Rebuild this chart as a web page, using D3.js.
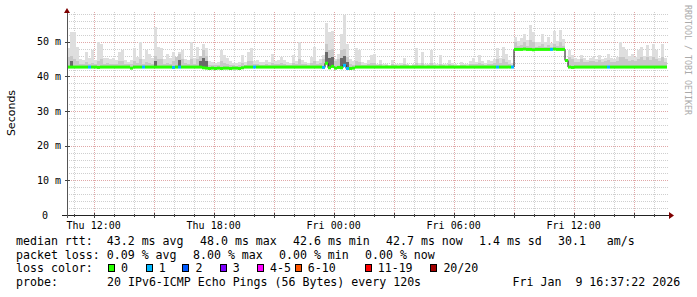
<!DOCTYPE html>
<html>
<head>
<meta charset="utf-8">
<script src="https://cdn.jsdelivr.net/npm/d3@7"></script>
<style>
  body { margin: 0; background: #fff; }
  svg text { font-family: "DejaVu Sans Mono", monospace; }
</style>
</head>
<body>
<svg id="chart" width="697" height="297"></svg>
<script>
// one column every 9 minutes, Thu 10:40 -> Fri 16:40
const startTime = new Date(2026, 0, 8, 10, 40);
const endTime = new Date(2026, 0, 9, 16, 40);
const stepMin = 9;

// median rtt per column (ms)
const medianRtt = [
  42.7,42.7,42.7,42.7,42.7,42.7,42.7,42.7,42.7,42.7, 42.6,42.7,42.7,42.7,42.7,42.7,42.7,42.7,42.7,42.7,
  42.7,42.4,42.7,42.7,42.7,42.7,42.7,42.7,42.7,42.7, 42.7,42.7,42.7,42.7,42.7,42.6,42.7,42.7,42.7,42.7,
  42.7,42.7,42.7,42.7,42.7,42.5,42.4,42.3,42.4,42.3, 42.4,42.3,42.4,42.4,42.3,42.4,42.4,42.3,42.5,42.7,
  42.7,42.7,42.7,42.7,42.7,42.7,42.7,42.7,42.7,42.7, 42.7,42.7,42.7,42.7,42.7,42.7,42.7,42.7,42.7,42.7,
  42.7,42.7,42.7,42.7,42.7,42.6,43.8,42.5,42.9,42.4, 42.6,42.5,43.2,42.3,42.3,42.4,42.7,42.7,42.7,42.7,
  42.7,42.7,42.7,42.7,42.7,42.7,42.7,42.7,42.7,42.7, 42.7,42.7,42.7,42.7,42.7,42.7,42.7,42.7,42.7,42.7,
  42.7,42.7,42.7,42.7,42.7,42.7,42.7,42.7,42.7,42.7, 42.7,42.7,42.7,42.7,42.7,42.7,42.7,42.7,42.7,42.7,
  42.7,42.7,42.7,42.7,42.7,42.7,42.7,42.7,42.7,47.8, 47.8,47.8,47.9,47.8,47.8,47.7,47.8,47.8,47.8,47.8,
  47.8,47.8,47.9,47.8,47.8,47.8,44.6,42.7,42.6,42.7, 42.7,42.7,42.7,42.7,42.7,42.7,42.7,42.7,42.7,42.7,
  42.7,42.7,42.7,42.7,42.7,42.7,42.7,42.7,42.7,42.7, 42.7,42.7,42.7,42.7,42.7,42.7,42.7,42.7,42.7,42.7
];

// highest ping per column (top of the smoke)
const smokeMax = [
  48.1,52.9,52.9,48.6,45.0,44.8,47.1,45.2,47.6,44.6, 50.0,49.5,45.3,45.2,44.9,45.4,44.7,47.1,47.6,44.6,
  44.3,44.8,48.1,45.5,50.0,45.1,47.6,46.6,45.3,54.3, 48.6,48.1,45.0,46.6,45.2,47.1,44.9,47.1,47.6,45.0,
  44.6,50.0,45.3,48.6,45.0,49.5,48.1,44.4,44.2,44.0, 44.3,47.6,46.1,45.2,44.4,44.0,43.8,44.1,46.1,44.3,
  47.1,48.1,44.5,44.6,44.2,44.2,44.7,44.3,46.6,44.5, 44.8,45.7,44.7,44.2,44.0,46.1,44.4,50.0,44.6,44.3,
  44.0,45.7,48.6,44.5,44.9,46.1,55.3,52.7,53.2,45.0, 46.6,52.3,57.7,49.5,45.0,44.4,48.1,47.6,44.3,43.8,
  44.7,46.1,46.6,43.6,44.7,43.5,43.6,43.4,44.7,43.6, 43.5,43.8,45.2,43.6,43.4,43.7,48.1,43.8,47.1,43.5,
  43.6,47.6,43.9,43.5,46.1,43.6,43.5,44.7,43.8,43.5, 43.4,44.2,43.6,43.5,44.4,45.2,44.3,46.1,44.5,44.0,
  44.8,44.4,44.9,48.1,45.2,48.6,46.6,44.6,44.0,51.5, 50.2,51.0,52.3,50.4,54.8,52.7,49.9,50.0,52.3,49.8,
  51.5,49.6,53.2,50.3,53.4,50.8,44.6,47.6,46.1,45.2, 45.0,46.1,45.3,44.8,45.2,45.7,44.9,46.1,45.0,45.4,
  46.6,45.3,45.1,45.7,50.0,48.6,47.6,45.8,46.6,45.5, 47.6,48.6,45.9,49.0,46.0,49.5,47.6,45.4,49.5,45.2
];

// upper quartile ping per column (denser smoke)
const smokeMid = [
  45.5,46.0,45.0,44.5,43.6,43.6,44.2,43.6,44.0,43.6, 44.5,45.0,43.6,43.8,43.6,43.7,43.6,44.5,44.5,43.6,
  43.5,43.6,44.5,43.8,45.0,43.6,44.2,44.0,43.6,46.0, 45.0,45.0,43.6,44.0,43.6,44.5,45.5,46.5,45.0,43.8,
  43.6,45.0,43.7,45.0,46.0,47.5,46.0,43.4,43.3,43.2, 43.3,44.5,44.0,43.6,43.3,43.2,43.1,43.3,44.0,43.4,
  44.5,44.5,43.6,43.6,43.4,43.4,43.5,43.4,44.0,43.6, 43.7,44.0,43.6,43.4,43.3,44.0,43.5,45.0,43.6,43.5,
  43.3,43.8,44.5,43.6,43.8,45.0,49.5,47.5,48.0,44.5, 45.0,47.5,48.0,45.5,43.6,43.4,44.5,44.2,43.3,43.2,
  43.6,43.8,44.0,43.2,43.5,43.1,43.2,43.1,43.5,43.2, 43.1,43.3,43.6,43.2,43.1,43.2,44.0,43.3,43.8,43.1,
  43.2,44.0,43.3,43.1,43.6,43.2,43.1,43.5,43.3,43.1, 43.1,43.4,43.2,43.1,43.5,43.7,43.5,43.9,43.6,43.4,
  43.7,43.5,43.8,45.0,43.9,45.0,44.2,43.6,43.4,50.0, 48.8,49.0,50.0,48.8,50.5,50.0,48.6,48.7,49.5,48.6,
  49.2,48.5,49.5,48.8,50.0,48.9,45.0,45.5,45.0,44.3, 44.2,45.0,44.3,44.1,44.4,44.5,44.2,44.6,44.2,44.4,
  44.8,44.3,44.2,44.5,45.6,45.5,45.0,44.5,44.8,44.4, 45.0,45.5,44.6,45.6,44.6,45.6,45.0,44.4,45.6,44.3
];

// lost pings (of 20) per column
const lostPings = [
  0,0,0,0,0,0,0,1,0,0, 0,0,0,0,0,0,0,0,0,0,
  0,0,0,0,0,1,0,0,0,0, 0,0,0,0,0,1,0,1,0,0,
  0,0,0,0,0,0,0,0,0,0, 0,0,0,0,0,0,0,0,0,0,
  0,0,1,0,0,0,0,0,0,0, 0,0,0,0,0,0,0,0,0,0,
  0,0,0,0,0,1,0,0,0,0, 0,0,1,1,0,0,0,0,0,0,
  0,0,0,0,0,0,0,0,0,0, 0,0,0,0,0,0,0,0,0,0,
  0,0,0,0,0,0,0,0,0,0, 0,0,0,0,0,0,0,0,0,0,
  0,0,0,1,0,0,0,0,1,0, 0,0,0,0,0,0,0,0,0,0,
  0,1,0,0,0,0,0,0,0,0, 0,0,0,0,0,0,0,0,0,0,
  1,0,0,0,0,0,0,0,0,0, 0,0,0,0,0,0,0,0,0,0
];

const lossLabels = ["0", "1", "2", "3", "4-5", "6-10", "11-19", "20/20"];
const lossColors = ["#26ff00", "#00b8ff", "#0059ff", "#7e00ff", "#ff00ff", "#ff5500", "#ff0000", "#a10000"];
const lossLimits = [0, 1, 2, 3, 5, 10, 19, 20];

const yTicks = [0, 10, 20, 30, 40, 50];
const xTickTimes = [new Date(2026, 0, 8, 12), new Date(2026, 0, 8, 18), new Date(2026, 0, 9, 0),
                    new Date(2026, 0, 9, 6), new Date(2026, 0, 9, 12)];
const xTickLabels = ["Thu 12:00", "Thu 18:00", "Fri 00:00", "Fri 06:00", "Fri 12:00"];

// legend items, one list per line (rrdtool puts a fixed gap between items)
const rttItems = ["median rtt:  43.2 ms avg", "48.0 ms max", "42.6 ms min", "42.7 ms now", "1.4 ms sd", "30.1   am/s"];
const lossItems = ["packet loss: 0.09 % avg", "8.00 % max", "0.00 % min", "0.00 % now"];
const probeText = "20 IPv6-ICMP Echo Pings (56 Bytes) every 120s";
const stampText = "Fri Jan  9 16:37:22 2026";

const svg = d3.select("#chart");
const plotL = 67, plotR = 667, plotT = 12, plotB = 215;

const x = d3.scaleTime().domain([startTime, endTime]).range([plotL, plotR]);
const y = d3.scaleLinear().domain([0, 58.6]).range([plotB, plotT]);

const times = medianRtt.map((d, i) => d3.timeMinute.offset(startTime, i * stepMin));
const colW = x(d3.timeMinute.offset(startTime, stepMin)) - x(startTime);

// grid
const grid = svg.append("g").attr("shape-rendering", "crispEdges");
const minorY = d3.range(2, 58.6, 2).filter(v => v % 10 !== 0);
grid.selectAll(".hmin").data(minorY).join("line")
  .attr("x1", plotL).attr("x2", plotR + 2)
  .attr("y1", d => Math.round(y(d)) + 0.5).attr("y2", d => Math.round(y(d)) + 0.5)
  .attr("stroke", "#cfcfcf").attr("stroke-dasharray", "1,1");
const hours = d3.timeHour.range(startTime, endTime);
grid.selectAll(".vmin").data(hours.filter(h => h.getHours() % 3 !== 0)).join("line")
  .attr("x1", d => Math.round(x(d)) + 0.5).attr("x2", d => Math.round(x(d)) + 0.5)
  .attr("y1", plotT).attr("y2", plotB)
  .attr("stroke", "#cfcfcf").attr("stroke-dasharray", "1,1");
grid.selectAll(".hmaj").data(yTicks.filter(v => v > 0)).join("line")
  .attr("x1", plotL).attr("x2", plotR + 2)
  .attr("y1", d => Math.round(y(d)) + 0.5).attr("y2", d => Math.round(y(d)) + 0.5)
  .attr("stroke", "#e0a8a8").attr("stroke-dasharray", "1,1");
grid.selectAll(".vmaj").data(hours.filter(h => h.getHours() % 3 === 0)).join("line")
  .attr("x1", d => Math.round(x(d)) + 0.5).attr("x2", d => Math.round(x(d)) + 0.5)
  .attr("y1", plotT).attr("y2", plotB)
  .attr("stroke", "#e0a8a8").attr("stroke-dasharray", "1,1");

// smoke
const smoke = svg.append("g").attr("shape-rendering", "crispEdges");
smoke.selectAll(".s1").data(times).join("rect")
  .attr("x", d => x(d)).attr("width", colW)
  .attr("y", (d, i) => y(smokeMax[i]))
  .attr("height", (d, i) => y(medianRtt[i] - 0.2) - y(smokeMax[i]))
  .attr("fill", "#dedede");
smoke.selectAll(".s2").data(times).join("rect")
  .attr("x", d => x(d)).attr("width", colW)
  .attr("y", (d, i) => y(smokeMid[i]))
  .attr("height", (d, i) => y(medianRtt[i] - 0.2) - y(smokeMid[i]))
  .attr("fill", "#c8c8c8");
const darkIdx = d3.range(times.length).filter(i => smokeMid[i] - medianRtt[i] > 3);
smoke.selectAll(".s3").data(darkIdx).join("rect")
  .attr("x", i => x(times[i])).attr("width", colW)
  .attr("y", i => y(medianRtt[i] + (smokeMid[i] - medianRtt[i]) * 0.55))
  .attr("height", i => y(medianRtt[i]) - y(medianRtt[i] + (smokeMid[i] - medianRtt[i]) * 0.55))
  .attr("fill", "#6a6a6a");

// median: thin dark step line, then loss coloured dashes
const stepLine = d3.line().x(d => x(d[0])).y(d => y(d[1])).curve(d3.curveStepAfter);
const stepData = times.map((t, i) => [t, medianRtt[i]]);
stepData.push([d3.timeMinute.offset(times[times.length - 1], stepMin), medianRtt[medianRtt.length - 1]]);
svg.append("path").datum(stepData)
  .attr("d", stepLine).attr("fill", "none").attr("stroke", "#111").attr("stroke-width", 1);
const lossIndex = n => lossLimits.findIndex(l => n <= l);
svg.append("g").selectAll("line").data(times).join("line")
  .attr("x1", d => x(d)).attr("x2", d => x(d) + colW)
  .attr("y1", (d, i) => y(medianRtt[i])).attr("y2", (d, i) => y(medianRtt[i]))
  .attr("stroke", (d, i) => lossColors[lossIndex(lostPings[i])])
  .attr("stroke-width", 3);

// axes
const axis = svg.append("g").attr("shape-rendering", "crispEdges");
axis.append("line").attr("x1", 62).attr("x2", 670).attr("y1", plotB + 0.5).attr("y2", plotB + 0.5).attr("stroke", "#222");
axis.append("line").attr("x1", plotL + 0.5).attr("x2", plotL + 0.5).attr("y1", plotB + 3).attr("y2", 11).attr("stroke", "#555");
axis.selectAll(".xt").data(hours).join("line")
  .attr("x1", d => Math.round(x(d)) + 0.5).attr("x2", d => Math.round(x(d)) + 0.5)
  .attr("y1", d => d.getHours() % 3 === 0 ? plotB - 2 : plotB - 1)
  .attr("y2", d => d.getHours() % 3 === 0 ? plotB + 3 : plotB + 2)
  .attr("stroke", "#444");
axis.selectAll(".yt").data(yTicks.filter(v => v > 0)).join("line")
  .attr("x1", plotL - 2).attr("x2", plotL + 3)
  .attr("y1", d => Math.round(y(d)) + 0.5).attr("y2", d => Math.round(y(d)) + 0.5)
  .attr("stroke", "#444");
svg.append("path").attr("d", "M64,13L70,13L67,8Z").attr("fill", "#7f0000");
svg.append("path").attr("d", "M669,212L669,219L674,215.5Z").attr("fill", "#7f0000");

svg.append("g").selectAll("text").data(yTicks).join("text")
  .attr("x", d => d === 0 ? 48 : 61).attr("y", d => y(d) + 3.5)
  .attr("text-anchor", "end").attr("font-size", 10).attr("fill", "#000")
  .text(d => d === 0 ? "0" : d + " m");
svg.append("g").selectAll("text").data(xTickTimes).join("text")
  .attr("x", d => x(d)).attr("y", 228.6)
  .attr("text-anchor", "middle").attr("font-size", 10).attr("fill", "#000")
  .text((d, i) => xTickLabels[i]);

svg.append("text").attr("transform", "translate(15,113) rotate(-90)")
  .attr("text-anchor", "middle").attr("font-size", 11)
  .style("font-family", "'DejaVu Sans', sans-serif").text("Seconds");
svg.append("text").attr("transform", "translate(685,5) rotate(90)")
  .attr("font-size", 8.3).attr("fill", "#aaa").text("RRDTOOL / TOBI OETIKER");

// legend
const fs = 11.6, chW = 7.0, itemGap = 16;
const lg = svg.append("g").attr("font-size", fs).attr("fill", "#000");
const rowY = [245, 258.7, 272.3, 286];
const boxX = [108, 145.7, 182.4, 219.7, 257, 294.7, 364.7, 430.4];
const addText = (xp, yp, s) => lg.append("text").attr("xml:space", "preserve").attr("x", xp).attr("y", yp).text(s);
const addRow = (items, yp) => {
  let xp = 16;
  items.forEach(s => { addText(xp, yp, s); xp += s.length * chW + itemGap; });
};

addRow(rttItems, rowY[0]);
addRow(lossItems, rowY[1]);
addText(16, rowY[2], "loss color:");
lg.selectAll(".box").data(lossColors).join("rect")
  .attr("x", (d, i) => Math.round(boxX[i]) + 0.5).attr("y", 264.5).attr("width", 6).attr("height", 7)
  .attr("fill", d => d).attr("stroke", "#000").attr("shape-rendering", "crispEdges");
lossLabels.forEach((s, i) => addText(boxX[i] + 13, rowY[2], s));
addText(16, rowY[3], "probe:");
addText(107, rowY[3], probeText);
addText(512.6, rowY[3], stampText);
</script>
</body>
</html>
